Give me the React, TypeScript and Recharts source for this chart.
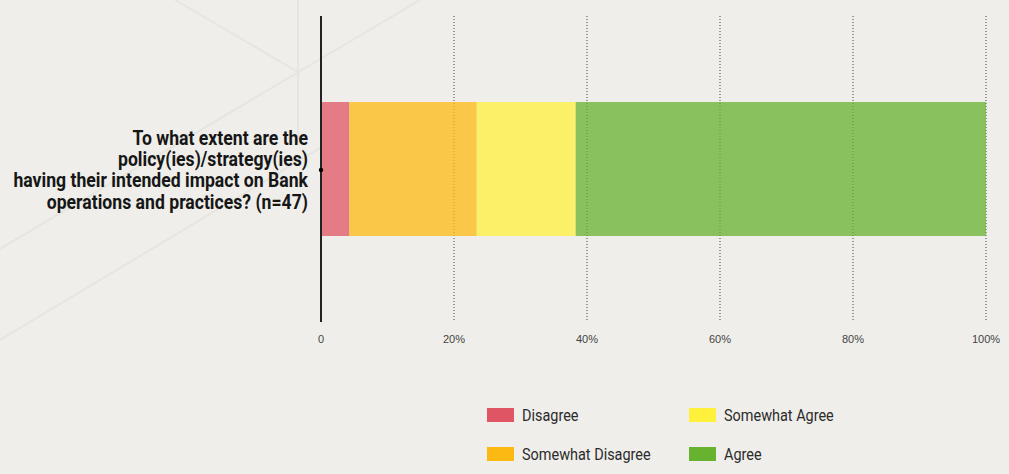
import React from 'react';
import { BarChart, Bar, XAxis, YAxis, CartesianGrid, Legend } from 'recharts';

// survey question (one category), split into display lines
const questionLines = [
  "To what extent are the",
  "policy(ies)/strategy(ies)",
  "having their intended impact on Bank",
  "operations and practices? (n=47)",
];
const question = questionLines.join(" ");

// response shares in percent (n=47)
const responses = ["Disagree", "Somewhat Disagree", "Somewhat Agree", "Agree"];
const shares = [4.26, 19.15, 14.89, 61.7];
const colors = ["#e05563", "#fdb913", "#fff03b", "#67b22f"];
const xTicks = [0, 20, 40, 60, 80, 100];

const row: Record<string, string | number> = { question };
responses.forEach((r, i) => {
  row[r] = shares[i];
});
const data = [row];

const bg = "#efeeea";
const sans = 'Roboto, "Liberation Sans", sans-serif';
// no condensed face installed, so text is squeezed horizontally
const squeeze = 0.84;

const QuestionTick = (props: any) => {
  const { x, y } = props;
  const lineH = 21.3;
  const ax = x - 13;
  const start = y - ((questionLines.length - 1) * lineH) / 2;
  return (
    <g>
      <g transform={`translate(${ax},0) scale(${squeeze},1) translate(${-ax},0)`}>
        <text x={ax} y={start} textAnchor="end" fontFamily={sans} fontWeight="bold" fontSize={21} fill="#161616">
          {questionLines.map((l, i) => (
            <tspan key={i} x={ax} y={start + i * lineH} dy="0.36em">
              {l}
            </tspan>
          ))}
        </text>
      </g>
      <circle cx={x} cy={y + 1} r={2.2} fill="#000" />
    </g>
  );
};

const LegendGrid = () => (
  <div
    style={{
      display: 'grid',
      gridTemplateColumns: '202px 202px',
      gridTemplateRows: '39px 39px',
      gridAutoFlow: 'column',
    }}
  >
    {responses.map((r, i) => (
      <div key={r} style={{ display: 'flex', alignItems: 'center', height: 22 }}>
        <span style={{ display: 'inline-block', width: 27, height: 14, background: colors[i] }} />
        <span
          style={{
            marginLeft: 8,
            fontFamily: sans,
            fontSize: 17,
            color: '#2b2b2b',
            whiteSpace: 'nowrap',
            transform: 'scaleX(0.85)',
            transformOrigin: 'left center',
          }}
        >
          {r}
        </span>
      </div>
    ))}
  </div>
);

const App: React.FC = () => {
  return (
    <div style={{ position: 'absolute', left: 0, top: 0, width: 1009, height: 474, background: bg, overflow: 'hidden' }}>
      {/* faint decorative strokes behind the chart */}
      <svg width={1009} height={474} style={{ position: 'absolute', left: 0, top: 0 }}>
        <g stroke="#e7e5e0" strokeWidth={2} fill="none">
          <line x1={175} y1={0} x2={298} y2={72} />
          <line x1={298} y1={0} x2={298} y2={143} />
          <line x1={420} y1={0} x2={0} y2={249} />
          <line x1={320} y1={148} x2={0} y2={340} />
        </g>
      </svg>
      <div style={{ position: 'absolute', left: 0, top: 0 }}>
        <BarChart
          width={1009}
          height={474}
          data={data}
          layout="vertical"
          margin={{ top: 16, right: 23, left: 0, bottom: 122 }}
        >
          <CartesianGrid horizontal={false} stroke="#444" strokeDasharray="1 2" />
          <XAxis
            type="number"
            domain={[0, 100]}
            ticks={xTicks}
            tickFormatter={(v: number) => (v === 0 ? '0' : `${v}%`)}
            axisLine={false}
            tickLine={false}
            tickSize={0}
            tickMargin={13}
            tick={{ fill: '#444', fontSize: 11, fontFamily: '"Liberation Sans", Arial, sans-serif' }}
          />
          <YAxis
            type="category"
            dataKey="question"
            width={321}
            axisLine={{ stroke: '#222', strokeWidth: 2 }}
            tickLine={false}
            tickSize={0}
            tickMargin={0}
            tick={<QuestionTick />}
          />
          <Legend
            layout="horizontal"
            verticalAlign="middle"
            align="center"
            content={<LegendGrid />}
            wrapperStyle={{ position: 'absolute', left: 487, top: 404, width: 420 }}
          />
          {responses.map((r, i) => (
            <Bar
              key={r}
              dataKey={r}
              name={r}
              stackId="a"
              fill={colors[i]}
              fillOpacity={0.75}
              barSize={134}
              isAnimationActive={false}
            />
          ))}
        </BarChart>
      </div>
    </div>
  );
};

export default App;
